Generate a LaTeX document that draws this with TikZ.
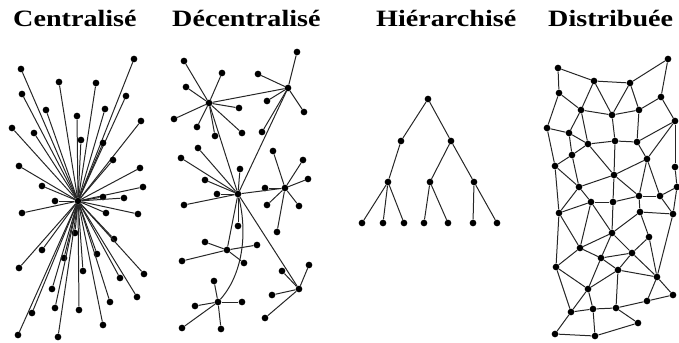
\documentclass[tikz,border=0pt]{standalone}
\usepackage{fontspec}
\newfontfamily\titlefont[FakeStretch=1.2]{Liberation Serif}

\begin{document}
\begin{tikzpicture}[
  x=0.03cm, y=-0.03cm,
  dot/.style={circle, fill=black, minimum size=2mm, inner sep=0pt},
  link/.style={draw=black!85, line width=0.85pt},
  title/.style={anchor=base west, inner sep=0pt, font=\titlefont\bfseries\fontsize{20}{22}\selectfont}
]
  \useasboundingbox (0,0) rectangle (679,343);

  % titles
  \node[title] (tcen) at (13,27) {Centralisé};
  \node[title] (tdec) at (172,27) {Décentralisé};
  \node[title] (thie) at (376,27) {Hiérarchisé};
  \node[title] (tdis) at (548,27) {Distribuée};

  % centralised: one hub
  \node[dot] (cen0) at (78,201) {};
  \foreach \n/\x/\y in {1/134/59, 2/21/69, 3/59/82, 4/96/83, 5/126/96, 6/22/94,
      7/46/110, 8/105/109, 9/77/116, 10/141/121, 11/12/128, 12/34/133, 13/81/140,
      14/103/143, 15/113/160, 16/19/166, 17/140/168, 18/42/186, 19/143/187,
      20/55/201, 21/103/197, 22/124/198, 23/22/213, 24/106/213, 25/138/214,
      26/75/233, 27/114/239, 28/42/250, 29/97/254, 30/64/258, 31/19/268,
      32/144/274, 33/83/271, 34/120/278, 35/52/289, 36/137/297, 37/110/302,
      38/55/308, 39/32/313, 40/79/310, 41/103/325, 42/18/335, 43/58/337}{
    \node[dot] (cen\n) at (\x,\y) {};
    \draw[link] (cen0) -- (cen\n);
  }

  % decentralised: several hubs
  \node[dot] (decA) at (209,103) {};
  \node[dot] (decB) at (288,88) {};
  \node[dot] (decC) at (238,194) {};
  \node[dot] (decD) at (285,188) {};
  \node[dot] (decE) at (227,250) {};
  \node[dot] (decF) at (218,302) {};
  \node[dot] (decG) at (299,289) {};
  \foreach \h/\n/\x/\y in {A/1/184/61, A/2/222/73, A/3/186/87, A/4/239/108,
      A/5/174/119, A/6/197/127, A/7/215/136, A/8/242/133,
      B/1/297/52, B/2/258/74, B/3/267/101, B/4/304/112, B/5/262/132,
      C/1/181/158, C/2/198/148, C/3/240/169, C/4/205/180, C/5/217/194,
      C/6/184/205, C/7/238/226,
      D/1/273/151, D/2/303/160, D/3/308/179, D/4/265/188, D/5/267/205,
      D/6/299/206, D/7/277/232,
      E/1/205/242, E/2/257/245, E/3/182/261, E/4/244/263,
      F/1/214/281, F/2/195/306, F/3/242/302, F/4/182/328, F/5/221/329,
      G/1/282/271, G/2/309/265, G/3/272/295, G/4/265/318}{
    \node[dot] (dec\h\n) at (\x,\y) {};
    \draw[link] (dec\h) -- (dec\h\n);
  }
  \draw[link] (decA) -- (decB) (decA) -- (decC) (decB) -- (decC)
    (decC) -- (decD) (decC) -- (decE) (decC) -- (decG);
  \draw[link] (decC) .. controls (248,235) and (242,275) .. (decF);

  % hierarchical: tree
  \node[dot] (hie0) at (428,99) {};
  \node[dot] (hie1) at (401,141) {};
  \node[dot] (hie2) at (451,141) {};
  \node[dot] (hie3) at (388,182) {};
  \node[dot] (hie4) at (430,182) {};
  \node[dot] (hie5) at (474,182) {};
  \foreach \n/\x in {1/362, 2/383, 3/404, 4/424, 5/448, 6/473, 7/497}
    \node[dot] (leaf\n) at (\x,223) {};
  \draw[link] (hie0) -- (hie1) (hie0) -- (hie2) (hie1) -- (hie3)
    (hie2) -- (hie4) (hie2) -- (hie5);
  \draw[link] (hie3) -- (leaf1) (hie3) -- (leaf2) (hie3) -- (leaf3)
    (hie4) -- (leaf4) (hie4) -- (leaf5) (hie5) -- (leaf6) (hie5) -- (leaf7);

  % distributed: mesh
  \foreach \n/\x/\y in {1/558/68, 2/668/59, 3/594/81, 4/630/83, 5/559/93,
      6/661/97, 7/581/110, 8/612/115, 9/639/110, 10/675/121, 11/547/128,
      12/569/133, 13/588/144, 14/615/141, 15/637/142, 16/572/155, 17/647/159,
      18/555/166, 19/675/167, 20/614/175, 21/579/187, 22/677/187, 23/639/196,
      24/660/196, 25/591/202, 26/613/202, 27/559/213, 28/640/212, 29/673/214,
      30/612/233, 31/649/237, 32/580/248, 33/632/253, 34/601/258, 35/618/270,
      36/556/267, 37/657/277, 38/588/289, 39/673/295, 40/647/301, 41/571/312,
      42/593/309, 43/616/308, 44/638/323, 45/555/334, 46/595/336}
    \node[dot] (dis\n) at (\x,\y) {};
  \foreach \a/\b in {1/3, 3/4, 4/2, 1/5, 2/6, 3/7, 3/8, 4/8, 4/9, 5/7, 5/11,
      7/8, 8/9, 9/6, 6/10, 7/12, 7/13, 8/14, 9/15, 10/15, 10/17, 10/19,
      11/12, 11/18, 12/13, 12/16, 13/14, 14/15, 15/17, 13/16, 13/20, 14/20,
      17/20, 16/18, 16/21, 18/21, 17/23, 17/24, 19/22, 20/21, 20/23, 20/26,
      22/24, 23/24, 24/29, 22/29, 21/25, 21/27, 18/27, 25/26, 26/23, 23/28,
      28/29, 25/27, 25/32, 25/30, 26/30, 28/30, 28/31, 29/37, 31/37, 27/32,
      27/36, 30/32, 30/33, 30/34, 31/33, 32/34, 32/36, 33/34, 33/37, 34/35,
      34/38, 33/35, 35/37, 35/38, 35/43, 36/38, 36/41, 37/39, 37/40, 38/41,
      38/42, 39/40, 40/43, 41/42, 42/43, 43/44, 41/45, 42/46, 45/46, 46/44}
    \draw[link] (dis\a) -- (dis\b);
\end{tikzpicture}
\end{document}
